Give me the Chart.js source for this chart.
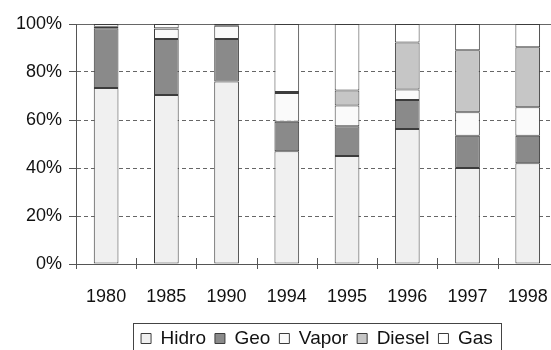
<!DOCTYPE html>
<html>
<head>
<meta charset="utf-8">
<script src="https://cdn.jsdelivr.net/npm/chart.js@4/dist/chart.umd.min.js"></script>
<style>
  html, body { margin: 0; padding: 0; background: #fff; overflow: hidden; }
  #wrap { width: 551px; height: 350px; overflow: hidden; }
  canvas { display: block; }
</style>
</head>
<body>
<div id="wrap"><canvas id="mix" width="562" height="358"></canvas></div>
<script>
// generation share by source, percent of total per year
const years = ["1980", "1985", "1990", "1994", "1995", "1996", "1997", "1998"];
const hidro  = [73.3, 70.4, 76.0, 47.0, 45.0, 56.3, 40.0, 42.0];
const geo    = [24.9, 23.3, 17.7, 12.3, 12.4, 12.0, 13.4, 11.4];
const vapor  = [0.5, 4.3, 5.6, 12.0, 8.6, 4.4, 9.8, 11.9];
const diesel = [0.2, 0.2, 0.3, 0.4, 6.3, 19.6, 25.9, 25.0];
const gas    = [1.1, 1.8, 0.4, 28.3, 27.7, 7.7, 10.9, 9.7];
const yTicks = [0, 20, 40, 60, 80, 100];

const axisColor = "#555";
const edge = "#3c3c3c";

Chart.defaults.font.family = "'Liberation Sans', Arial, sans-serif";
Chart.defaults.color = "#111";

function series(label, data, fill) {
  return {
    label,
    data,
    backgroundColor: fill,
    borderColor: edge,
    borderWidth: 1,
    borderSkipped: false,
    inflateAmount: 0,
    categoryPercentage: 1,
    barPercentage: 0.41,
  };
}

// tick marks that cross the x axis, and the frame round the legend
const extras = {
  id: "extras",
  afterDraw(chart) {
    const { ctx, chartArea } = chart;
    const step = (chartArea.right - chartArea.left) / years.length;
    ctx.save();
    ctx.strokeStyle = axisColor;
    ctx.lineWidth = 1;
    ctx.beginPath();
    for (let i = 0; i <= years.length; i++) {
      const px = Math.round(chartArea.left + i * step) + 0.5;
      ctx.moveTo(px, chartArea.bottom - 6);
      ctx.lineTo(px, chartArea.bottom + 5);
    }
    ctx.stroke();

    const boxes = chart.legend.legendHitBoxes;
    if (boxes && boxes.length) {
      const l = Math.min(...boxes.map((b) => b.left)) - 8;
      const r = Math.max(...boxes.map((b) => b.left + b.width)) + 8;
      const t = Math.min(...boxes.map((b) => b.top)) - 6;
      ctx.strokeStyle = "#444";
      ctx.strokeRect(Math.round(l) + 0.5, Math.round(t) + 0.5, Math.round(r - l), 40);
    }
    ctx.restore();
  },
};

new Chart(document.getElementById("mix"), {
  type: "bar",
  data: {
    labels: years,
    datasets: [
      series("Hidro", hidro, "#f0f0f0"),
      series("Geo", geo, "#8a8a8a"),
      series("Vapor", vapor, "#fafafa"),
      series("Diesel", diesel, "#c6c6c6"),
      series("Gas", gas, "#ffffff"),
    ],
  },
  options: {
    responsive: false,
    animation: false,
    devicePixelRatio: 1,
    layout: { padding: { top: 24, right: 4, left: 0, bottom: 0 } },
    plugins: {
      tooltip: { enabled: false },
      legend: {
        position: "bottom",
        fullSize: false,
        labels: {
          font: { size: 19 },
          color: "#111",
          boxWidth: 10,
          boxHeight: 10,
          padding: 9,
        },
      },
    },
    scales: {
      x: {
        stacked: true,
        grid: { display: false },
        border: { color: axisColor, width: 1 },
        ticks: { font: { size: 18 }, color: "#111", padding: 14, maxRotation: 0 },
        afterFit: (s) => { s.height = 56; },
      },
      y: {
        stacked: true,
        min: 0,
        max: 100,
        afterBuildTicks: (s) => { s.ticks = yTicks.map((v) => ({ value: v })); },
        ticks: { font: { size: 18 }, color: "#111", padding: 7, callback: (v) => v + "%" },
        grid: { color: "#666", tickColor: axisColor, tickLength: 7 },
        border: {
          color: axisColor,
          width: 1,
          dash: (c) => (c.tick && c.tick.value > 0 && c.tick.value < 100 ? [4, 3] : []),
        },
        afterFit: (s) => { s.width = 76; },
      },
    },
  },
  plugins: [extras],
});
</script>
</body>
</html>
